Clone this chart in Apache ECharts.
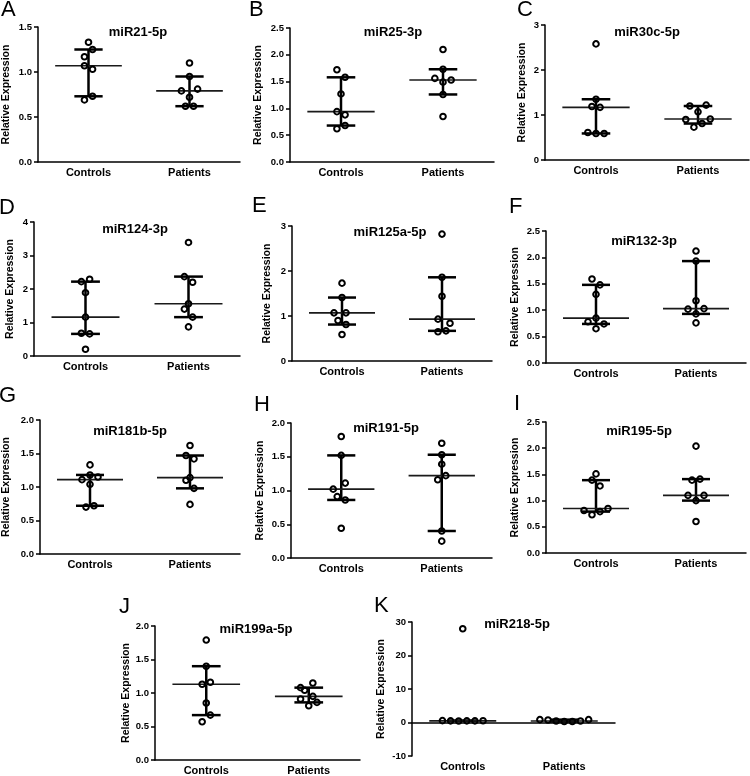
<!DOCTYPE html>
<html>
<head>
<meta charset="utf-8">
<script src="https://cdn.jsdelivr.net/npm/echarts@6/dist/echarts.min.js"></script>
<style>
html,body{margin:0;padding:0;background:#fff;}
#c{width:750px;height:776px;}
</style>
</head>
<body>
<div id="c"></div>
<script>
// ---------------- DATA ----------------
const categories = ['Controls', 'Patients'];
const letters = ['A','B','C','D','E','F','G','H','I','J','K'];
const titles = ['miR21-5p','miR25-3p','miR30c-5p','miR124-3p','miR125a-5p','miR132-3p','miR181b-5p','miR191-5p','miR195-5p','miR199a-5p','miR218-5p'];
const yMin = [0,0,0,0,0,0,0,0,0,0,-10];
const yMax = [1.5,2.5,3,4,3,2.5,2,2,2.5,2,30];
const yStep = [0.5,0.5,1,1,1,0.5,0.5,0.5,0.5,0.5,10];

const A_ctrl = [1.33,1.25,1.17,1.07,1.03,0.73,0.69];
const A_pat  = [1.10,0.95,0.79,0.81,0.72,0.62,0.62];
const B_ctrl = [1.72,1.58,1.27,0.94,0.88,0.68,0.62];
const B_pat  = [2.10,1.73,1.56,1.53,1.49,1.26,0.85];
const C_ctrl = [2.58,1.35,1.19,1.17,0.61,0.59,0.59];
const C_pat  = [1.20,1.22,1.07,0.90,0.91,0.81,0.73];
const D_ctrl = [2.22,2.29,1.89,1.16,0.68,0.66,0.20];
const D_pat  = [3.39,2.37,2.20,1.56,1.40,1.16,0.87];
const E_ctrl = [1.73,1.41,1.07,1.07,0.90,0.81,0.59];
const E_pat  = [2.82,1.86,1.44,0.93,0.84,0.65,0.67];
const F_ctrl = [1.59,1.48,1.30,0.85,0.78,0.74,0.65];
const F_pat  = [2.12,1.93,1.18,1.02,1.03,0.93,0.76];
const G_ctrl = [1.33,1.18,1.15,1.11,1.04,0.70,0.72];
const G_pat  = [1.62,1.47,1.42,1.14,1.10,0.98,0.74];
const H_ctrl = [1.80,1.52,1.11,1.02,0.91,0.86,0.44];
const H_pat  = [1.70,1.53,1.39,1.22,1.16,0.40,0.25];
const I_ctrl = [1.51,1.39,1.28,0.81,0.73,0.79,0.85];
const I_pat  = [2.04,1.39,1.41,1.10,1.10,1.00,0.60];
const J_ctrl = [1.79,1.40,1.13,1.16,0.85,0.67,0.57];
const J_pat  = [1.15,1.08,1.04,0.91,0.95,0.81,0.86];
const K_ctrl = [28.0,0.55,0.50,0.45,0.50,0.48,0.52];
const K_pat  = [0.85,0.75,0.45,0.30,0.30,0.45,0.85];

// horizontal scatter (jitter) of each point, in category units
const A_ctrlJ = [0,0.04,-0.04,-0.04,0.04,0.04,-0.04];
const A_patJ  = [0,0,-0.08,0.08,0,-0.04,0.04];
const B_ctrlJ = [-0.04,0.04,0,-0.04,0.04,0.04,-0.04];
const B_patJ  = [0,0,-0.08,0.08,0,0,0];
const C_ctrlJ = [0,0,-0.04,0.04,-0.08,0,0.08];
const C_patJ  = [-0.08,0.08,0,-0.12,0.12,0.04,-0.04];
const D_ctrlJ = [-0.04,0.04,0,0,-0.04,0.04,0];
const D_patJ  = [0,-0.04,0.04,0,-0.04,0.04,0];
const E_ctrlJ = [0,0,-0.08,0.04,-0.04,0.04,0];
const E_patJ  = [0,0,0,-0.04,0.08,-0.04,0.04];
const F_ctrlJ = [-0.04,0.04,0,0,-0.08,0.08,0];
const F_patJ  = [0,0,0,-0.08,0.08,0,0];
const G_ctrlJ = [0,0,0.08,-0.08,0,-0.04,0.04];
const G_patJ  = [0,-0.04,0.04,0,-0.04,0.04,0];
const H_ctrlJ = [0,0,0.04,-0.08,-0.04,0.04,0];
const H_patJ  = [0,0,0,0.04,-0.04,0,0];
const I_ctrlJ = [0,-0.04,0.04,-0.12,-0.04,0.04,0.12];
const I_patJ  = [0,-0.04,0.04,-0.08,0.08,0,0];
const J_ctrlJ = [0,0,-0.04,0.04,0,0.04,-0.04];
const J_patJ  = [0.04,-0.08,-0.04,-0.08,0.04,0,0.08];
const K_ctrlJ = [0,-0.2,-0.12,-0.04,0.04,0.12,0.2];
const K_patJ  = [-0.24,-0.16,-0.08,0,0.08,0.16,0.24];

const ctrlSets = [A_ctrl,B_ctrl,C_ctrl,D_ctrl,E_ctrl,F_ctrl,G_ctrl,H_ctrl,I_ctrl,J_ctrl,K_ctrl];
const patSets  = [A_pat,B_pat,C_pat,D_pat,E_pat,F_pat,G_pat,H_pat,I_pat,J_pat,K_pat];
const ctrlJit  = [A_ctrlJ,B_ctrlJ,C_ctrlJ,D_ctrlJ,E_ctrlJ,F_ctrlJ,G_ctrlJ,H_ctrlJ,I_ctrlJ,J_ctrlJ,K_ctrlJ];
const patJit   = [A_patJ,B_patJ,C_patJ,D_patJ,E_patJ,F_patJ,G_patJ,H_patJ,I_patJ,J_patJ,K_patJ];

// ---------------- LAYOUT ----------------
// [axisLeft, axisRight, topTick, zeroTick]
const boxes = [
  [36,240,27,162],[290,494,28,162],[545,749,25,160],
  [34,240,222,356],[292,492,226,361],[546,746,231,363],
  [36,240,420,554],[291,492,423,558],[546,746,422,553],
  [155,360,626,760],[412,615,622,756]
];
const nameGaps = [26,26,17,18,19,25,28,25,25,23,25];
const titlePos = [[138,32],[393,32],[647,32],[135,229],[390,232],[644,241],[130,431],[386,428],[639,431],[256,629],[517,624]];
const letterPos = [[1,10],[249,10],[517,10],[-1,208],[252,206],[509,207],[-1,396],[254,405],[514,404],[119,607],[374,606]];

const FONT = '"Liberation Sans", Arial, sans-serif';

function quant(arr, p) {
  const s = arr.slice().sort((a,b)=>a-b);
  const n = s.length;
  let r = p*(n+1);
  if (r < 1) r = 1;
  if (r > n) r = n;
  const lo = Math.floor(r), hi = Math.ceil(r);
  return s[lo-1] + (r-lo)*(s[hi-1]-s[lo-1]);
}

const grid = [], xAxis = [], yAxis = [], series = [], title = [];

for (let i = 0; i < 11; i++) {
  const b = boxes[i];
  grid.push({left: b[0], width: b[1]-b[0], top: b[2], height: b[3]-b[2], containLabel: false});
  xAxis.push({
    type: 'category', gridIndex: i, data: categories, boundaryGap: true,
    axisLine: {lineStyle: {color: '#000', width: 1.5}},
    axisTick: {alignWithLabel: true, length: 4, lineStyle: {color: '#000', width: 1.5}},
    axisLabel: {color: '#000', fontFamily: FONT, fontWeight: 'bold', fontSize: 11, margin: 5},
    splitLine: {show: false}
  });
  xAxis.push({type: 'value', gridIndex: i, min: 0.5, max: 2.5, show: false});
  const step = yStep[i];
  yAxis.push({
    type: 'value', gridIndex: i, min: yMin[i], max: yMax[i], interval: step,
    axisLine: {show: true, lineStyle: {color: '#000', width: 1.5}},
    axisTick: {show: true, length: 4, lineStyle: {color: '#000', width: 1.5}},
    axisLabel: {color: '#000', fontFamily: FONT, fontWeight: 'bold', fontSize: 9.5, margin: 6,
      formatter: v => step < 1 ? v.toFixed(1) : String(Math.round(v))},
    splitLine: {show: false},
    name: 'Relative Expression', nameLocation: 'middle', nameGap: nameGaps[i],
    nameTextStyle: {color: '#000', fontFamily: FONT, fontSize: 10.5, fontWeight: 'bold'}
  });

  const pts = [];
  ctrlSets[i].forEach((v,k) => pts.push([1 + ctrlJit[i][k], v]));
  patSets[i].forEach((v,k) => pts.push([2 + patJit[i][k], v]));

  const stats = [ctrlSets[i], patSets[i]].map((arr, g) => [g+1, quant(arr,0.5), quant(arr,0.25), quant(arr,0.75)]);

  series.push({
    type: 'custom', xAxisIndex: 2*i+1, yAxisIndex: i, data: stats, clip: false, z: 2,
    renderItem: function (params, api) {
      const x = api.value(0), med = api.value(1), q1 = api.value(2), q3 = api.value(3);
      const mL = api.coord([x-0.33, med]), mR = api.coord([x+0.33, med]);
      const aL = api.coord([x-0.14, q1]), aR = api.coord([x+0.14, q1]);
      const bL = api.coord([x-0.14, q3]), bR = api.coord([x+0.14, q3]);
      const c1 = api.coord([x, q1]), c3 = api.coord([x, q3]);
      const ln = (p, q, w, col) => ({type: 'line', shape: {x1: p[0], y1: p[1], x2: q[0], y2: q[1]},
        style: {stroke: col, lineWidth: w}});
      return {type: 'group', children: [
        ln(c1, c3, 2.5, '#000'),
        ln(aL, aR, 2.5, '#000'),
        ln(bL, bR, 2.5, '#000'),
        ln(mL, mR, 1.6, '#1a1a1a')
      ]};
    }
  });
  series.push({
    type: 'scatter', xAxisIndex: 2*i+1, yAxisIndex: i, data: pts, z: 3,
    symbol: 'circle', symbolSize: 5.6,
    itemStyle: {color: 'rgba(255,255,255,0)', borderColor: '#000', borderWidth: 2, opacity: 1},
    silent: true
  });

  title.push({
    text: titles[i], left: titlePos[i][0], top: titlePos[i][1], textAlign: 'center', textVerticalAlign: 'middle',
    textStyle: {color: '#000', fontFamily: FONT, fontWeight: 'bold', fontSize: 13}, padding: 0
  });
  title.push({
    text: letters[i], left: letterPos[i][0], top: letterPos[i][1], textAlign: 'left', textVerticalAlign: 'middle',
    textStyle: {color: '#000', fontFamily: FONT, fontWeight: 'normal', fontSize: 22}, padding: 0
  });
}

const chart = echarts.init(document.getElementById('c'), null, {renderer: 'canvas'});
chart.setOption({
  backgroundColor: '#fff',
  animation: false,
  title, grid, xAxis, yAxis, series
});
</script>
</body>
</html>
